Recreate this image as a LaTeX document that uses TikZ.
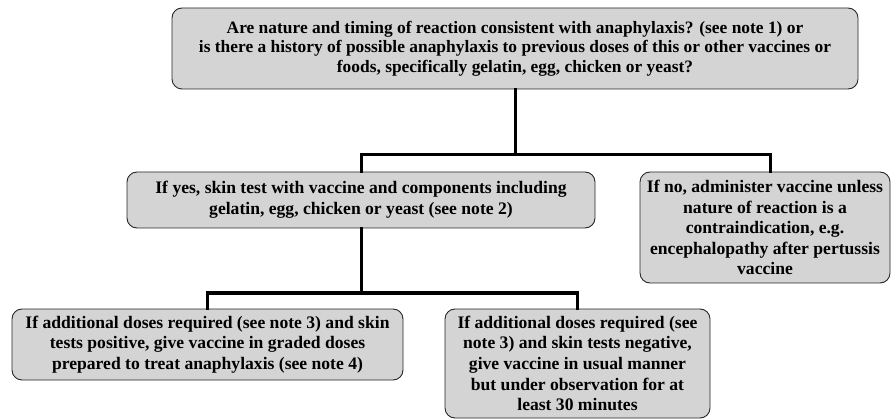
\documentclass[tikz,border=0pt]{standalone}
\usepackage{fontspec}
\setmainfont{Liberation Serif}
\usetikzlibrary{positioning}

\begin{document}
\begin{tikzpicture}[
	x=1pt, y=-1pt,
	every node/.style={font=\bfseries\fontsize{17.6}{20.6}\selectfont},
	box/.style = {draw=black!85, line width=0.9pt, fill=black!17, rounded corners=10pt, align=center, inner sep=0pt},
	link/.style = {line width=3pt, line cap=rect}
	]
	\useasboundingbox (0,0) rectangle (893,419);

	\node[box, minimum width=686pt, minimum height=81pt, font=\bfseries\fontsize{17.4}{19.5}\selectfont] (top) at (515,48.5)
		{Are nature and timing of reaction consistent with anaphylaxis? (see note 1) or\\
		is there a history of possible anaphylaxis to previous doses of this or other vaccines or\\
		foods, specifically gelatin, egg, chicken or yeast?};
	\node[box, minimum width=468pt, minimum height=56pt] (yes) at (361,200)
		{If yes, skin test with vaccine and components including\\
		gelatin, egg, chicken or yeast (see note 2)};
	\node[box, minimum width=250pt, minimum height=111pt] (no) at (765,227.5)
		{If no, administer vaccine unless\\ nature of reaction is a\\ contraindication, e.g.\\
		encephalopathy after pertussis\\ vaccine};
	\node[box, minimum width=391pt, minimum height=71pt] (pos) at (207.5,344.5)
		{If additional doses required (see note 3) and skin\\
		tests positive, give vaccine in graded doses\\
		prepared to treat anaphylaxis (see note 4)};
	\node[box, minimum width=265pt, minimum height=109pt] (neg) at (577.5,363.5)
		{If additional doses required (see\\ note 3) and skin tests negative,\\
		give vaccine in usual manner\\ but under observation for at\\ least 30 minutes};

	\coordinate (@1) at (515,155);
	\coordinate (@2) at (361,293);

	\draw[link] (top.south) -- (@1);
	\draw[link] (yes.north) |- (@1) -| ([xshift=5pt]no.north);
	\draw[link] (yes.south) -- (@2);
	\draw[link] (pos.north) |- (@2) -| (neg.north);

\end{tikzpicture}
\end{document}
